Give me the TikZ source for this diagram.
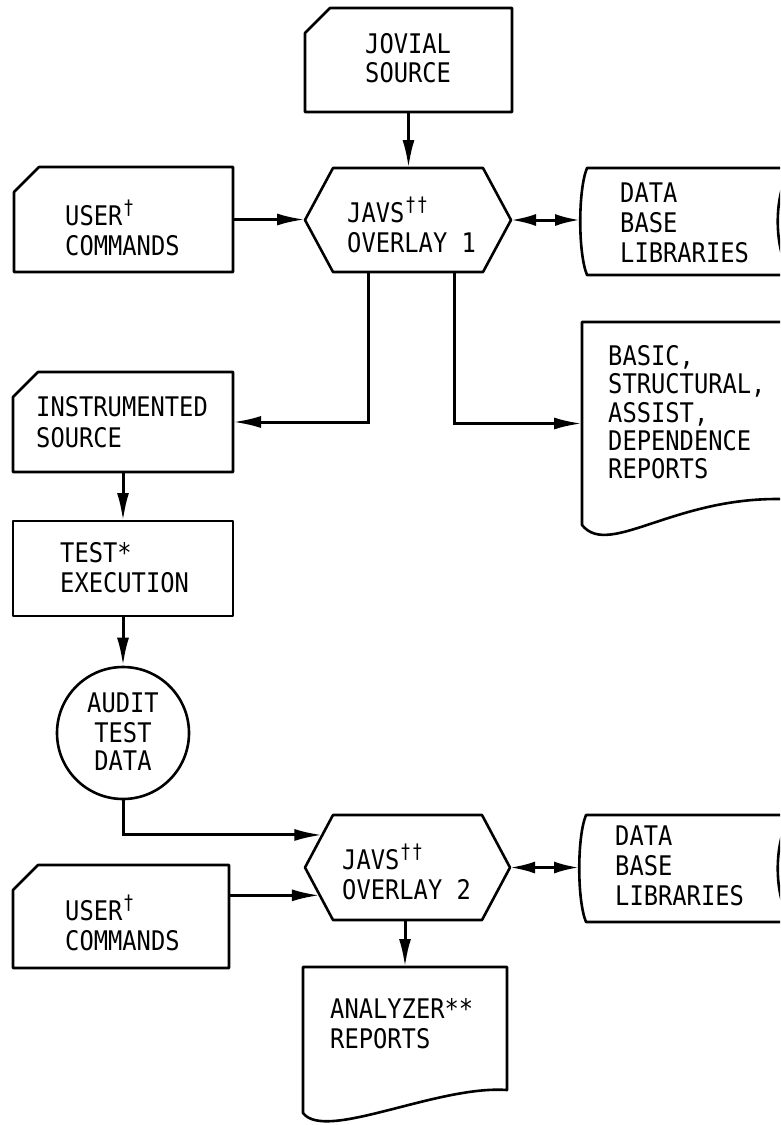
\documentclass[tikz,border=0pt]{standalone}
\usepackage{fontspec}
\newfontfamily\typ[FakeStretch=0.88]{DejaVu Sans Mono}
\usetikzlibrary{arrows.meta,calc}
\newcommand\dg{\hspace{1pt}\raisebox{11pt}{\fontsize{20}{20}\selectfont †}}
\newcommand\cardpath[1]{\draw[outl] ($(#1.north west)+(0,25)$) -- ($(#1.north west)+(25,0)$) -- (#1.north east) -- (#1.south east) -- (#1.south west) -- cycle;}
\newcommand\hexpath[1]{\draw[outl] (#1.west) -- ($(#1.north west)+(28,0)$) -- ($(#1.north east)+(-28,0)$) -- (#1.east) -- ($(#1.south east)+(-28,0)$) -- ($(#1.south west)+(28,0)$) -- cycle;}
\newcommand\dbpath[1]{\draw[outl] ($(#1.north west)+(7,0)$) -- ($(#1.north east)+(2,0)$) .. controls ($(#1.north east)+(-17,22)$) and ($(#1.south east)+(-17,-22)$) .. ($(#1.south east)+(2,0)$) -- ($(#1.south west)+(7,0)$) .. controls ($(#1.south west)+(-2,-22)$) and ($(#1.north west)+(-2,22)$) .. cycle;}
\begin{document}
\begin{tikzpicture}[x=1pt,y=-1pt,
  shp/.style={draw=none, inner sep=0pt, outer sep=0pt, rectangle},
  outl/.style={line width=2.6pt, line join=round},
  conn/.style={line width=3pt},
  arr/.style={conn, -{Latex[length=28pt,width=12pt]}},
  darr/.style={conn, {Latex[length=25pt,width=12pt]}-{Latex[length=25pt,width=12pt]}},
  lbl/.style={inner sep=0pt, anchor=base west, font=\typ\fontsize{27}{30}\selectfont},
  clbl/.style={lbl, anchor=base},
]
\fill[white] (0,0) rectangle (780,1125);
\useasboundingbox (0,0) rectangle (780,1125);
\clip (0,0) rectangle (780,1125);

% shape placeholders
\node[shp, minimum width=207pt, minimum height=104pt] (jovial) at (408.5,60) {};
\node[shp, minimum width=219pt, minimum height=105pt] (user1) at (123.5,219.5) {};
\node[shp, minimum width=206pt, minimum height=104pt] (hex1) at (408,220) {};
\node[shp, minimum width=210pt, minimum height=107pt] (db1) at (685,221.5) {};
\node[shp, minimum width=220pt, minimum height=100pt] (instr) at (123,422) {};
\node[shp, minimum width=218pt, minimum height=203pt] (basic) at (691,423.5) {};
\node[shp, minimum width=220pt, minimum height=95pt] (test) at (123,568.5) {};
\node[circle, draw, outl, minimum size=132pt, inner sep=0pt] (audit) at (123,733) {};
\node[shp, minimum width=205pt, minimum height=105pt] (hex2) at (407.5,867.5) {};
\node[shp, minimum width=211pt, minimum height=107pt] (db2) at (684.5,868.5) {};
\node[shp, minimum width=216pt, minimum height=103pt] (user2) at (121,916.5) {};
\node[shp, minimum width=204pt, minimum height=146pt] (analyzer) at (405,1040) {};

% outlines
\cardpath{jovial}
\cardpath{user1}
\hexpath{hex1}
\dbpath{db1}
\cardpath{instr}
\draw[outl] (test.north west) rectangle (test.south east);
\hexpath{hex2}
\dbpath{db2}
\cardpath{user2}
\draw[outl] (basic.north west) -- (basic.north east) -- ($(basic.south east)+(0,-25)$) .. controls ($(basic.south east)+(-120,-35)$) and ($(basic.south west)+(28,35)$) .. (basic.south west) -- cycle;
\draw[outl] (analyzer.north west) -- (analyzer.north east) -- ($(analyzer.south east)+(0,-23)$) .. controls ($(analyzer.south east)+(-70,-28)$) and ($(analyzer.south west)+(22,29)$) .. (analyzer.south west) -- cycle;

% texts
\node[lbl] (t-jov1) at (365,53) {JOVIAL};
\node[lbl] (t-jov2) at (365,82) {SOURCE};
\node[lbl] (t-us11) at (65,225) {USER\dg};
\node[lbl] (t-us12) at (65,255) {COMMANDS};
\node[lbl] (t-hx11) at (347,222) {JAVS\dg\dg};
\node[lbl] (t-hx12) at (347,252) {OVERLAY 1};
\node[lbl] (t-db11) at (620,202) {DATA};
\node[lbl] (t-db12) at (620,232) {BASE};
\node[lbl] (t-db13) at (620,262) {LIBRARIES};
\node[lbl] (t-in1) at (36,416) {INSTRUMENTED};
\node[lbl] (t-in2) at (36,447) {SOURCE};
\node[lbl] (t-ba1) at (608,365) {BASIC,};
\node[lbl] (t-ba2) at (608,393) {STRUCTURAL,};
\node[lbl] (t-ba3) at (608,422) {ASSIST,};
\node[lbl] (t-ba4) at (608,450) {DEPENDENCE};
\node[lbl] (t-ba5) at (608,478) {REPORTS};
\node[lbl] (t-te1) at (60,562) {TEST*};
\node[lbl] (t-te2) at (60,592) {EXECUTION};
\node[clbl] (t-au1) at (123,712) {AUDIT};
\node[clbl] (t-au2) at (123,742) {TEST};
\node[clbl] (t-au3) at (123,770) {DATA};
\node[lbl] (t-hx21) at (342,869) {JAVS\dg\dg};
\node[lbl] (t-hx22) at (342,899) {OVERLAY 2};
\node[lbl] (t-db21) at (615,845) {DATA};
\node[lbl] (t-db22) at (615,875) {BASE};
\node[lbl] (t-db23) at (615,905) {LIBRARIES};
\node[lbl] (t-us21) at (65,920) {USER\dg};
\node[lbl] (t-us22) at (65,950) {COMMANDS};
\node[lbl] (t-an1) at (330,1018) {ANALYZER**};
\node[lbl] (t-an2) at (330,1048) {REPORTS};

% connectors
\draw[arr] (jovial.south) -- (jovial.south |- hex1.north);
\draw[arr] (user1.east) -- (user1.east -| hex1.west);
\draw[darr] (hex1.east) -- (hex1.east -| db1.west);
\draw[arr] ([xshift=63pt]hex1.south west) |- (instr.east);
\draw[arr] ([xshift=149pt]hex1.south west) |- (basic.west);
\draw[arr] (instr.south) -- (test.north);
\draw[arr] (test.south) -- (audit.north);
\coordinate (h2a) at ($(hex2.west)!0.62!([xshift=28pt]hex2.north west)$);
\draw[arr] (audit.south) |- (h2a);
\coordinate (h2b) at ($(hex2.west)!0.53!([xshift=28pt]hex2.south west)$);
\draw[arr] (user2.east |- h2b) -- (h2b);
\draw[darr] (hex2.east) -- (hex2.east -| db2.west);
\draw[arr] (analyzer.north |- hex2.south) -- (analyzer.north);
\end{tikzpicture}
\end{document}
